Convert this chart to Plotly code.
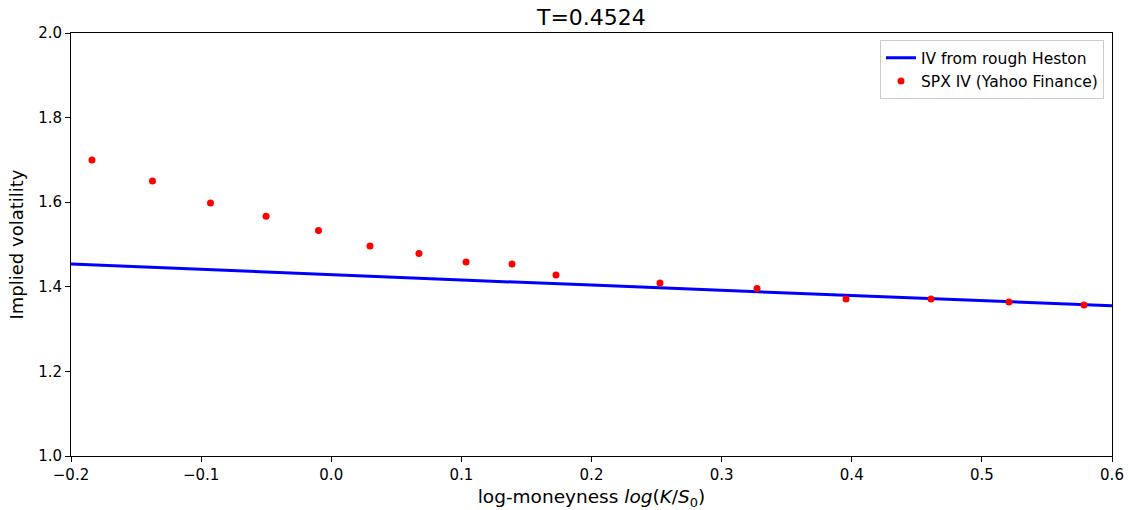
import plotly.graph_objects as go

# Market implied volatilities (SPX, Yahoo Finance)
market_logk = [-0.1839, -0.1374, -0.0928, -0.0501, -0.0098, 0.0298, 0.0674, 0.1036,
               0.1389, 0.1727, 0.2526, 0.3272, 0.3956, 0.4609, 0.5208, 0.5785]
market_iv = [1.700, 1.650, 1.598, 1.567, 1.533, 1.4965, 1.479, 1.4586,
             1.454, 1.428, 1.409, 1.396, 1.371, 1.371, 1.364, 1.357]

# Model implied volatility curve (rough Heston)
model_logk = [-0.2, -0.1, 0.0, 0.1, 0.2, 0.3, 0.4, 0.5, 0.6]
model_iv = [1.454, 1.441, 1.429, 1.416, 1.404, 1.392, 1.379, 1.367, 1.355]

maturity = 0.4524

font_family = "DejaVu Sans"

fig = go.Figure()
fig.add_trace(go.Scatter(
    x=model_logk, y=model_iv, mode="lines",
    line=dict(color="#0000ff", width=3),
    name="IV from rough Heston",
))
fig.add_trace(go.Scatter(
    x=market_logk, y=market_iv, mode="markers",
    marker=dict(color="#ff0000", size=7),
    name="SPX IV (Yahoo Finance)",
))

axis_common = dict(
    showgrid=False, zeroline=False, automargin=False,
    showline=True, linecolor="black", linewidth=1, mirror=True,
    ticks="outside", ticklen=5, tickwidth=1, tickcolor="black",
    tickfont=dict(family=font_family, size=15, color="black"),
)

fig.update_layout(
    width=1129, height=510,
    margin=dict(l=71, r=17, t=33, b=54),
    paper_bgcolor="white", plot_bgcolor="white",
    font=dict(family=font_family, color="black"),
    title=dict(text=f"T={maturity}", x=0.5238, xanchor="center", y=0.966, yanchor="middle",
               font=dict(family=font_family, size=22, color="black")),
    xaxis=dict(range=[-0.2, 0.6], dtick=0.1, tickformat=".1f",
               title=dict(text="log-moneyness <i>log</i>(<i>K</i>/<i>S</i><sub>0</sub>)",
                          font=dict(family=font_family, size=18.5), standoff=7),
               **axis_common),
    yaxis=dict(range=[1.0, 2.0], dtick=0.2, tickformat=".1f",
               title=dict(text="Implied volatility", font=dict(family=font_family, size=18), standoff=9),
               **axis_common),
    legend=dict(x=0.9923, y=0.983, xanchor="right", yanchor="top",
                bgcolor="white", bordercolor="#cccccc", borderwidth=1,
                font=dict(family=font_family, size=15.5, color="black"),
                tracegroupgap=0),
    showlegend=True,
)

fig.write_html("out.html")
